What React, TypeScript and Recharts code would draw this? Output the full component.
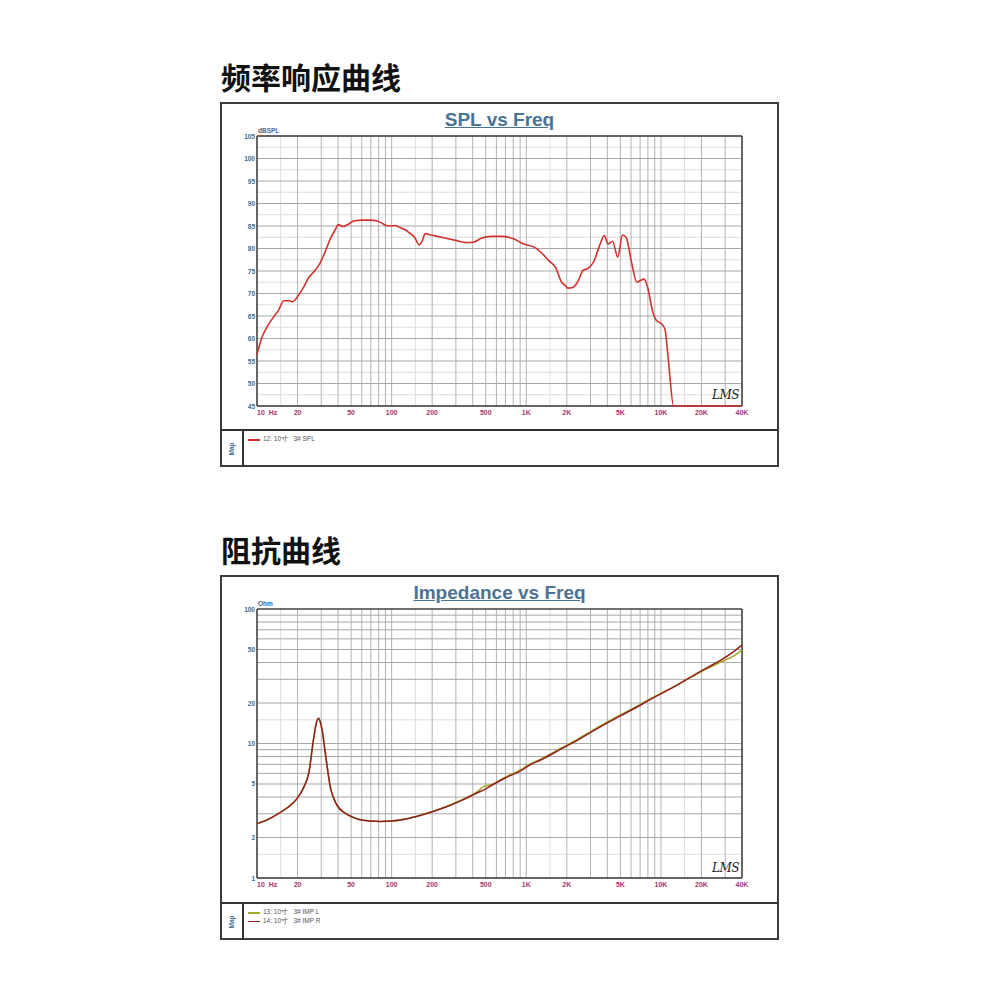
import React from 'react';
import { LineChart, Line, XAxis, YAxis, CartesianGrid } from 'recharts';

// ---------- axis ticks ----------
const freqTicks = [10, 20, 50, 100, 200, 500, 1000, 2000, 5000, 10000, 20000, 40000];
const freqTickLabels = ['10\u00a0\u00a0Hz', '20', '50', '100', '200', '500', '1K', '2K', '5K', '10K', '20K', '40K'];
const splTicks = [45, 50, 55, 60, 65, 70, 75, 80, 85, 90, 95, 100, 105];
const impTicks = [1, 2, 5, 10, 20, 50, 100];

// ---------- SPL vs Freq (12: 10寸 3# SPL) ----------
const splFreq = [10, 11, 12, 13.2, 14.4, 15.8, 17.4, 18.4, 20.2, 22.2, 24.3, 26.6, 29.2, 32, 35.1, 38.5, 40, 43.5, 47.7, 52.3, 61, 69, 78, 85, 91, 99, 106, 116, 127, 135, 148, 160, 167, 178, 195, 234, 298, 358, 405, 458, 550, 660, 795, 956, 1150, 1300, 1470, 1650, 1830, 1940, 2040, 2230, 2440, 2630, 2880, 3160, 3470, 3800, 4040, 4370, 4780, 5180, 5510, 6040, 6630, 7050, 7500, 7960, 8720, 9270, 10000, 10700, 11400, 12400, 40000];
const splValues = [56.5, 60.6, 62.8, 64.7, 66.2, 68.4, 68.4, 68.2, 69.5, 71.4, 73.6, 74.9, 76.6, 79.2, 82.2, 84.4, 85.3, 84.9, 85.4, 86.1, 86.3, 86.3, 86.1, 85.6, 85.1, 85.0, 85.1, 84.6, 84.1, 83.5, 82.5, 80.8, 81.4, 83.3, 83.0, 82.5, 81.8, 81.3, 81.4, 82.2, 82.7, 82.7, 82.2, 81.0, 80.3, 79.0, 77.3, 75.8, 72.5, 71.8, 71.2, 71.4, 72.9, 75.1, 75.6, 77.0, 80.3, 82.9, 81.0, 81.6, 78.1, 83.0, 82.5, 77.0, 72.5, 72.9, 73.2, 71.4, 65.8, 64.0, 63.4, 62.1, 54.7, 45, 45];

// ---------- Impedance vs Freq ----------
const impFreq = [10, 11.65, 14, 16.8, 19.6, 22.2, 24.3, 26.3, 27.5, 28.6, 29.6, 30.5, 32, 33.5, 35.1, 37, 39.6, 44.8, 50.7, 57.4, 68.7, 82.7, 99.4, 127, 162, 206, 264, 338, 432, 480, 550, 703, 899, 1080, 1300, 1880, 2410, 3050, 3880, 4960, 6340, 8100, 10400, 13200, 17000, 21700, 27800, 35300, 40000];
const impR = [2.54, 2.68, 2.96, 3.33, 3.84, 4.7, 6.1, 10.8, 14.0, 15.4, 14.3, 12.5, 8.8, 6.3, 4.7, 3.95, 3.43, 3.05, 2.85, 2.72, 2.65, 2.63, 2.65, 2.75, 2.92, 3.14, 3.43, 3.81, 4.3, 4.5, 4.87, 5.56, 6.24, 6.98, 7.6, 9.29, 10.6, 12.2, 14.0, 16.0, 18.2, 20.9, 23.9, 27.2, 31.6, 36.3, 41.6, 48.9, 53.8];
const impL = [2.54, 2.68, 2.96, 3.33, 3.84, 4.7, 6.1, 10.8, 14.0, 15.4, 14.3, 12.5, 8.8, 6.3, 4.7, 3.95, 3.43, 3.05, 2.85, 2.72, 2.65, 2.63, 2.65, 2.75, 2.92, 3.15, 3.45, 3.85, 4.36, 4.78, 4.94, 5.64, 6.33, 7.08, 7.71, 9.42, 10.75, 12.37, 14.2, 16.2, 18.45, 21.15, 24.1, 27.3, 31.4, 35.8, 40.3, 45.2, 49.4];

const splData = splFreq.map((f, i) => ({ f, spl: splValues[i] }));
const impData = impFreq.map((f, i) => ({ f, r: impR[i], l: impL[i] }));

// grid values (log decades)
const decadeValues = (start: number, end: number, mults: number[]) => {
  const out: number[] = [];
  for (let d = start; d < end; d *= 10) {
    mults.forEach((m) => {
      const v = d * m;
      if (v >= start && v <= end) out.push(v);
    });
  }
  return out;
};
const vGridMain = decadeValues(10, 40000, [1, 2, 3, 4, 5, 6, 7, 8, 9]);
const vGridMinor = decadeValues(10, 40000, [1.5]);
const splGridMain = splTicks;
const splGridMinor = splTicks.slice(0, -1).map((v) => v + 2.5);
const impGridMain = decadeValues(1, 100, [1, 2, 3, 4, 5, 6, 7, 8, 9]);
const impGridMinor = decadeValues(1, 100, [1.5]);

const FONT = '"Liberation Sans", Arial, sans-serif';
const CJK = '"Noto Sans CJK SC", sans-serif';
const BLUE = '#3a6a94';
const MAROON = '#a8346a';

const XTick = (props: any) => {
  const { x, y, payload } = props;
  const idx = freqTicks.indexOf(payload.value);
  const label = idx >= 0 ? freqTickLabels[idx] : String(payload.value);
  return (
    <text x={x} y={y} dy={9} textAnchor={payload.value === 10 ? 'start' : 'middle'} fill={MAROON} fontSize={7} fontWeight="bold" fontFamily={FONT}>
      {label}
    </text>
  );
};

const YTick = (props: any) => {
  const { x, y, payload } = props;
  return (
    <text x={x} y={y} dy={2.5} textAnchor="end" fill={BLUE} fontSize={6.5} fontWeight="bold" fontFamily={FONT}>
      {payload.value}
    </text>
  );
};

const abs = (left: number, top: number, extra: React.CSSProperties = {}): React.CSSProperties => ({
  position: 'absolute',
  left,
  top,
  ...extra,
});

const Panel = ({ top, title, children, unit, legend }: any) => (
  <>
    <div style={abs(220, top, { width: 559, height: 365, border: '2px solid #3c3c3c', boxSizing: 'border-box', background: '#fff' })} />
    <div style={abs(220, top + 7, { width: 559, textAlign: 'center', fontFamily: FONT, fontSize: 19, fontWeight: 'bold', color: '#4b7394', textDecoration: 'underline', lineHeight: '22px' })}>
      {title}
    </div>
    <div style={abs(258, top + 25, { fontFamily: FONT, fontSize: 6.5, fontWeight: 'bold', color: BLUE, lineHeight: '8px' })}>{unit}</div>
    <div style={abs(220, top + 0, {})}>{children}</div>
    <div style={abs(712, top + 286, { fontFamily: '"DejaVu Serif", serif', fontStyle: 'italic', fontSize: 12, color: '#222', lineHeight: '14px', letterSpacing: '-0.5px' })}>LMS</div>
    <div style={abs(220, top + 327, { width: 559, height: 2, background: '#333' })} />
    <div style={abs(242, top + 327, { width: 2, height: 38, background: '#333' })} />
    <div style={abs(222, top + 343, { width: 20, textAlign: 'center', transform: 'rotate(-90deg)', fontFamily: FONT, fontSize: 6.5, fontWeight: 'bold', color: BLUE, lineHeight: '8px' })}>Map</div>
    {legend.map((item: any, i: number) => (
      <React.Fragment key={i}>
        <div style={abs(248, top + 337 + i * 8.5, { width: 12, height: 1.5, background: item.color })} />
        <div style={abs(263, top + 333 + i * 8.5, { fontFamily: FONT, fontSize: 6.5, color: '#555', lineHeight: '8px', whiteSpace: 'pre' })}>{item.label}</div>
      </React.Fragment>
    ))}
  </>
);

export default function App() {
  return (
    <div style={{ position: 'absolute', left: 0, top: 0, width: 1000, height: 1000, background: '#fff' }}>
      <div style={abs(221, 60, { fontFamily: CJK, fontSize: 30, fontWeight: 'bold', color: '#111', lineHeight: '33px' })}>频率响应曲线</div>
      <div style={abs(221, 533, { fontFamily: CJK, fontSize: 30, fontWeight: 'bold', color: '#111', lineHeight: '33px' })}>阻抗曲线</div>

      <Panel top={102} title="SPL vs Freq" unit="dBSPL" legend={[{ color: '#d2312d', label: '12: 10寸   3# SPL' }]}>
        <LineChart width={559} height={328} data={splData} margin={{ top: 34, right: 37, left: 0, bottom: 0 }}>
          <CartesianGrid verticalValues={vGridMinor} horizontal={false} stroke="#dedede" strokeWidth={1} />
          <CartesianGrid horizontalValues={splGridMinor} vertical={false} stroke="#dedede" strokeWidth={1} />
          <CartesianGrid verticalValues={vGridMain} horizontal={false} stroke="#b3b3b3" strokeWidth={1} />
          <CartesianGrid horizontalValues={splGridMain} vertical={false} stroke="#a6a6a6" strokeWidth={1} />
          <CartesianGrid verticalValues={[10, 40000]} horizontalValues={[45, 105]} stroke="#404040" strokeWidth={1.5} />
          <XAxis dataKey="f" type="number" scale="log" domain={[10, 40000]} ticks={freqTicks} axisLine={false} tickLine={false} tickSize={0} tickMargin={0} height={24} tick={<XTick />} interval={0} />
          <YAxis type="number" domain={[45, 105]} ticks={splTicks} axisLine={false} tickLine={false} tickSize={0} tickMargin={2} width={37} tick={<YTick />} interval={0} />
          <Line type="monotone" dataKey="spl" stroke="#d2312d" strokeWidth={1.6} dot={false} isAnimationActive={false} />
        </LineChart>
      </Panel>

      <Panel top={575} title="Impedance vs Freq" unit="Ohm" legend={[{ color: '#a3a92a', label: '13: 10寸   3# IMP L' }, { color: '#8e2020', label: '14: 10寸   3# IMP R' }]}>
        <LineChart width={559} height={327} data={impData} margin={{ top: 34, right: 37, left: 0, bottom: 0 }}>
          <CartesianGrid verticalValues={vGridMinor} horizontal={false} stroke="#dedede" strokeWidth={1} />
          <CartesianGrid horizontalValues={impGridMinor} vertical={false} stroke="#dedede" strokeWidth={1} />
          <CartesianGrid verticalValues={vGridMain} horizontal={false} stroke="#b3b3b3" strokeWidth={1} />
          <CartesianGrid horizontalValues={impGridMain} vertical={false} stroke="#a6a6a6" strokeWidth={1} />
          <CartesianGrid verticalValues={[10, 40000]} horizontalValues={[1, 100]} stroke="#404040" strokeWidth={1.5} />
          <XAxis dataKey="f" type="number" scale="log" domain={[10, 40000]} ticks={freqTicks} axisLine={false} tickLine={false} tickSize={0} tickMargin={0} height={24} tick={<XTick />} interval={0} />
          <YAxis type="number" scale="log" domain={[1, 100]} ticks={impTicks} axisLine={false} tickLine={false} tickSize={0} tickMargin={2} width={37} tick={<YTick />} interval={0} />
          <Line type="monotone" dataKey="l" stroke="#a3a92a" strokeWidth={1.6} dot={false} isAnimationActive={false} />
          <Line type="monotone" dataKey="r" stroke="#8e2020" strokeWidth={1.5} dot={false} isAnimationActive={false} />
        </LineChart>
      </Panel>
    </div>
  );
}
